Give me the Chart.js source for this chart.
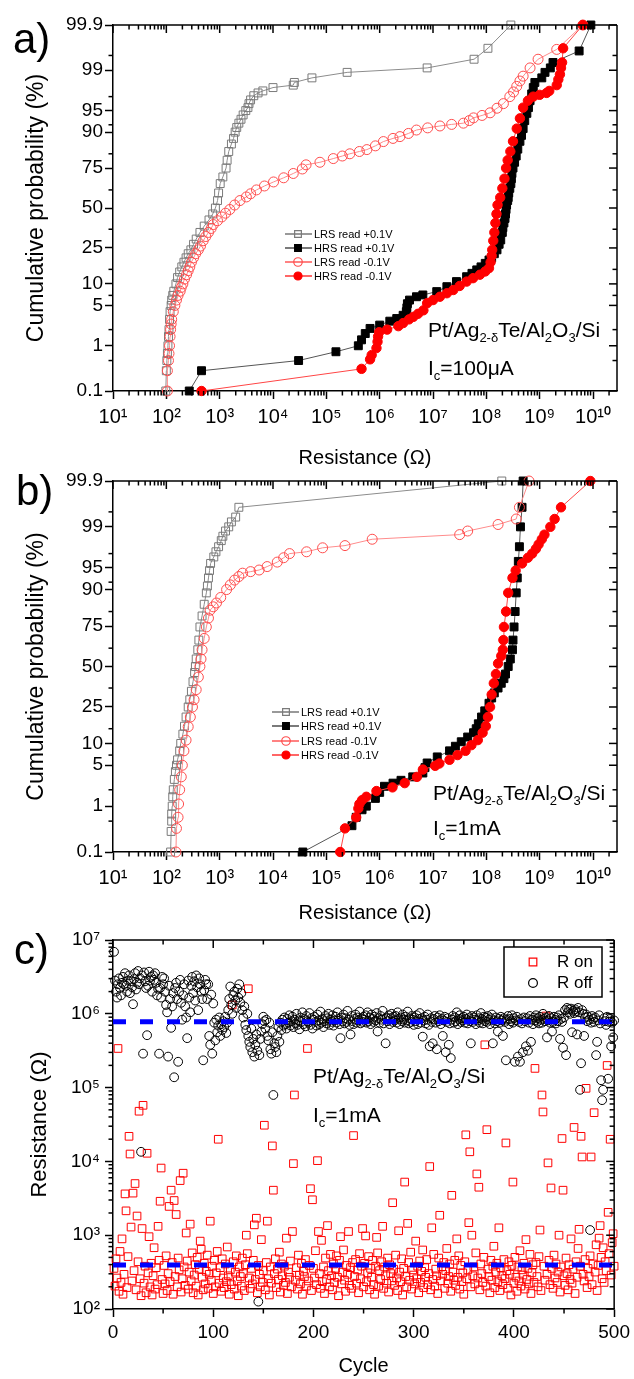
<!DOCTYPE html>
<html><head><meta charset="utf-8">
<script src="https://cdn.jsdelivr.net/npm/chart.js@4.4.1/dist/chart.umd.min.js"></script>
<style>
html,body{margin:0;padding:0;background:#fff;}
#wrap{position:relative;width:634px;height:1379px;overflow:hidden;font-family:"Liberation Sans",Arial,sans-serif;color:#000;}
canvas{position:absolute;left:0;}
.lbl{position:absolute;font-size:42px;line-height:42px;white-space:nowrap;}
.ann{position:absolute;font-size:21px;line-height:21px;white-space:nowrap;}
.ann sub{font-size:13px;vertical-align:-5px;line-height:0;}
</style></head><body>
<div id="wrap">
<canvas id="ca" width="634" height="470" style="top:0px"></canvas>
<canvas id="cb" width="634" height="470" style="top:460px"></canvas>
<canvas id="cc" width="634" height="459" style="top:920px"></canvas>
<div class="lbl" style="left:13px;top:18px">a)</div>
<div class="lbl" style="left:16px;top:470px">b)</div>
<div class="lbl" style="left:14px;top:929px">c)</div>
<div class="ann" style="left:428px;top:319px">Pt/Ag<sub>2-δ</sub>Te/Al<sub>2</sub>O<sub>3</sub>/Si</div>
<div class="ann" style="left:428px;top:357px">I<sub>c</sub>=100μA</div>
<div class="ann" style="left:433px;top:782px">Pt/Ag<sub>2-δ</sub>Te/Al<sub>2</sub>O<sub>3</sub>/Si</div>
<div class="ann" style="left:433px;top:817px">I<sub>c</sub>=1mA</div>
<div class="ann" style="left:313px;top:1065px">Pt/Ag<sub>2-δ</sub>Te/Al<sub>2</sub>O<sub>3</sub>/Si</div>
<div class="ann" style="left:313px;top:1104px">I<sub>c</sub>=1mA</div>
</div>
<script>
// ---------------- DATA ----------------
// cumulative-probability panels: [cumulative %, log10(R / Ohm)]
const seriesLabels = ['LRS read +0.1V', 'HRS read +0.1V', 'LRS read -0.1V', 'HRS read -0.1V'];
const probTicks = [0.1, 1, 5, 10, 25, 50, 75, 90, 95, 99, 99.9];
const probTickLabels = ['0.1', '1', '5', '10', '25', '50', '75', '90', '95', '99', '99.9'];
const probMinorTicks = [0.5, 2, 7, 15, 36, 62, 82, 92, 97, 99.5];
const resistanceDecades = [1e1, 1e2, 1e3, 1e4, 1e5, 1e6, 1e7, 1e8, 1e9, 1e10];

const aLrsPos = [[0.1,1.99],[0.3,2.00],[0.5,2.01],[0.7,2.02],[1,2.03],[1.5,2.04],[2,2.05],[3,2.06],[4,2.07],[5,2.09],[6,2.10],[7,2.12],[8,2.14],[10,2.18],[12,2.21],[14,2.25],[16,2.29],[18,2.33],[20,2.37],[22,2.41],[24,2.46],[27,2.51],[30,2.56],[34,2.63],[38,2.71],[42,2.80],[46,2.87],[50,2.92],[55,2.96],[60,2.98],[66,3.01],[70,3.06],[75,3.12],[79,3.14],[83,3.17],[86,3.22],[88,3.26],[90,3.29],[91.3,3.32],[92.4,3.36],[93.3,3.40],[94.2,3.44],[95,3.49],[95.5,3.53],[96.1,3.55],[96.6,3.58],[97.1,3.64],[97.4,3.72],[97.6,3.81],[97.9,4.00],[98.1,4.38],[98.3,4.40],[98.6,4.73],[98.9,5.39],[99.1,6.89],[99.4,7.77],[99.65,8.03],[99.9,8.46]];
const aHrsPos = [[0.1,2.43],[0.3,2.66],[0.5,4.48],[0.76,5.18],[1.0,5.60],[1.3,5.66],[1.7,5.73],[2.1,5.82],[2.4,6.00],[2.8,6.19],[3.1,6.32],[3.5,6.44],[4.0,6.50],[4.6,6.51],[5.3,6.52],[6.0,6.56],[6.7,6.69],[7.1,6.81],[7.9,7.07],[9.2,7.26],[10.7,7.44],[12.3,7.63],[13.5,7.73],[14.8,7.82],[16,7.90],[17.5,7.98],[19,8.05],[20,8.10],[22,8.15],[24,8.20],[27,8.24],[29.5,8.27],[34,8.30],[37,8.31],[40,8.33],[43,8.35],[46,8.36],[49,8.37],[52,8.38],[55,8.40],[57,8.41],[60,8.42],[63,8.44],[66,8.46],[69,8.47],[72,8.48],[75,8.50],[78,8.53],[81,8.56],[84,8.59],[87,8.63],[89,8.66],[91,8.69],[93,8.72],[94.5,8.76],[95.5,8.79],[96.5,8.82],[97.3,8.85],[97.9,8.88],[98.3,8.91],[98.6,9.04],[98.9,9.10],[99.1,9.20],[99.3,9.25],[99.6,9.74],[99.9,9.96]];
const aLrsNeg = [[0.1,2.02],[0.3,2.02],[0.5,2.04],[0.7,2.05],[1,2.06],[1.5,2.07],[2,2.08],[2.5,2.09],[3,2.10],[4,2.13],[5,2.16],[6,2.19],[7,2.22],[8,2.26],[9,2.28],[10,2.31],[11.5,2.34],[13,2.38],[14.5,2.41],[16,2.44],[18,2.47],[20,2.51],[22,2.55],[24,2.60],[26,2.64],[29,2.69],[31.5,2.74],[34,2.79],[36.5,2.84],[39,2.88],[41.5,2.96],[44,3.04],[46.5,3.11],[49,3.19],[52,3.28],[55,3.38],[57.4,3.50],[59.5,3.58],[62,3.69],[64.5,3.84],[67,4.01],[69.5,4.20],[72,4.38],[74.5,4.55],[76.7,4.62],[78,4.88],[79.8,5.13],[81,5.30],[82,5.44],[83,5.62],[83.8,5.76],[85.3,5.92],[86.9,6.07],[88,6.25],[88.6,6.38],[89.6,6.54],[90.6,6.69],[91.2,6.90],[91.7,7.13],[92.1,7.35],[92.4,7.57],[93,7.68],[93.6,7.76],[94.1,7.92],[94.6,8.07],[95.4,8.20],[96.1,8.32],[97,8.44],[97.5,8.51],[98,8.57],[98.4,8.63],[98.7,8.69],[99.1,8.82],[99.4,8.97],[99.63,9.32],[99.9,9.81]];
const aHrsNeg = [[0.1,2.66],[0.33,5.66],[0.53,5.82],[0.65,5.85],[0.9,5.94],[1.2,5.96],[1.5,5.97],[1.8,5.99],[2.0,6.14],[2.3,6.35],[2.6,6.44],[3.0,6.55],[3.3,6.63],[3.7,6.72],[4.2,6.82],[5.4,6.89],[6.0,7.00],[6.7,7.13],[7.5,7.26],[8.3,7.38],[9.4,7.50],[10.7,7.63],[11.8,7.75],[13,7.88],[14.2,7.98],[15.5,8.05],[18,8.08],[21,8.10],[24,8.11],[29,8.13],[34,8.15],[40,8.17],[46,8.19],[52,8.21],[57,8.26],[63,8.30],[69,8.34],[75,8.37],[79,8.40],[83,8.45],[87,8.50],[91,8.57],[93.5,8.63],[95.5,8.69],[96.5,8.78],[97,8.88],[97.2,9.00],[97.4,9.13],[97.6,9.18],[98.1,9.32],[98.5,9.35],[98.8,9.38],[99.1,9.40],[99.3,9.42],[99.65,9.44],[99.9,9.81]];

const bLrsPos = [[0.1,2.08],[0.3,2.09],[0.5,2.10],[0.7,2.10],[1,2.11],[1.5,2.12],[2,2.13],[3,2.15],[4,2.17],[5,2.19],[6,2.21],[8,2.25],[10,2.27],[13,2.31],[16,2.34],[20,2.37],[25,2.41],[29,2.44],[34,2.47],[40,2.50],[46,2.53],[50,2.545],[55,2.56],[61,2.59],[67,2.61],[74.5,2.63],[80,2.67],[85,2.71],[89,2.75],[91,2.77],[93,2.79],[94.5,2.81],[95.7,2.83],[96.6,2.89],[97.2,2.93],[97.7,2.98],[98.2,3.03],[98.5,3.06],[98.8,3.11],[99.0,3.17],[99.2,3.22],[99.36,3.30],[99.6,3.36],[99.9,8.29]];
const bHrsPos = [[0.1,4.56],[0.4,5.48],[0.6,5.56],[0.85,5.67],[1.0,5.75],[1.4,5.92],[1.8,6.00],[2.3,6.09],[2.6,6.25],[2.9,6.40],[3.3,6.62],[3.8,6.81],[4.6,6.85],[5.4,6.89],[6.6,7.08],[8,7.31],[9.2,7.42],[10.5,7.53],[12,7.65],[13.5,7.76],[15,7.81],[17,7.85],[20,7.91],[23,7.97],[27,8.05],[30,8.10],[33,8.15],[36,8.22],[39,8.28],[42,8.33],[45,8.36],[50,8.41],[55,8.45],[61,8.49],[67,8.50],[74.5,8.52],[82,8.54],[89,8.56],[93,8.58],[96,8.60],[97.7,8.62],[99,8.64],[99.6,8.67],[99.9,8.69]];
const bLrsNeg = [[0.1,2.18],[0.35,2.19],[0.6,2.22],[1.1,2.23],[2,2.25],[3.3,2.28],[5,2.30],[8,2.33],[11,2.37],[15.8,2.41],[20,2.45],[25,2.49],[29,2.52],[35,2.56],[43,2.60],[50,2.63],[55,2.65],[61,2.67],[68,2.71],[74.5,2.75],[79,2.79],[82.6,2.82],[84,2.88],[85.5,2.94],[87.5,3.02],[90,3.13],[91.3,3.20],[92.5,3.28],[93.3,3.36],[94,3.43],[94.3,3.58],[94.6,3.74],[95.2,3.89],[95.9,4.08],[96.5,4.20],[97,4.31],[97.2,4.63],[97.6,4.93],[97.8,5.35],[98.3,5.86],[98.6,7.50],[98.8,7.65],[99.1,8.22],[99.3,8.56],[99.6,8.62],[99.9,8.80]];
const bHrsNeg = [[0.1,5.26],[0.35,5.35],[0.6,5.56],[0.9,5.60],[1.1,5.62],[1.3,5.67],[1.5,5.75],[1.9,5.94],[2.2,6.24],[2.6,6.47],[3.3,6.70],[4.3,6.81],[4.9,7.04],[5.3,7.12],[6,7.31],[7,7.46],[8,7.61],[9.5,7.72],[11,7.84],[13.5,7.93],[16,7.99],[20,8.03],[25,8.07],[32,8.10],[39,8.14],[45,8.18],[52,8.22],[57,8.28],[61,8.31],[67,8.32],[74.5,8.33],[82,8.37],[89,8.41],[93,8.49],[94.5,8.55],[95.7,8.67],[96.5,8.78],[97,8.86],[97.5,8.93],[97.9,8.98],[98.3,9.04],[98.6,9.09],[99,9.20],[99.3,9.28],[99.6,9.40],[99.9,9.95]];

// panel c: log10(R / Ohm) for cycles 1..500
const cycleTicks = [0, 100, 200, 300, 400, 500];
const cycleMinorTicks = [50, 150, 250, 350, 450];
const cResDecades = [1e2, 1e3, 1e4, 1e5, 1e6, 1e7];
const rOnMean = 395;
const rOffMean = 7.8e5;
const rOnLog = [
2.55,2.31,2.68,2.42,5.53,2.24,2.78,2.36,2.95,2.20,
2.47,3.56,3.33,2.29,2.71,4.34,4.10,3.11,2.38,3.57,
2.52,3.70,2.26,3.26,2.64,4.68,2.41,2.18,3.09,4.76,
2.35,2.58,2.22,4.11,2.49,2.98,2.30,2.62,2.19,2.45,
2.83,2.27,2.56,2.33,3.12,2.66,3.46,3.91,2.40,2.21,
2.59,2.34,2.72,2.25,2.48,3.39,2.37,3.61,2.63,2.20,
3.47,2.44,3.28,2.30,2.69,2.53,3.74,2.23,2.41,3.84,
2.57,2.32,3.03,2.65,2.27,2.50,3.15,2.38,2.76,2.22,
2.46,2.60,2.31,2.70,2.19,2.54,2.92,2.81,2.43,2.26,
2.62,2.34,2.51,2.73,2.28,2.47,3.19,2.39,2.58,2.21,
2.66,2.30,2.49,2.78,4.30,2.35,2.56,2.24,2.68,2.42,
2.29,2.61,2.37,2.84,2.45,2.20,2.53,2.33,6.12,2.64,
2.27,2.50,2.72,2.38,2.18,2.57,2.44,2.31,2.69,2.48,
2.25,2.60,3.00,2.75,6.34,2.42,2.28,2.55,2.34,2.66,
3.14,2.40,3.23,2.22,2.59,2.47,2.30,2.94,2.36,2.52,
4.49,2.26,2.63,3.19,2.41,2.19,2.57,2.35,4.21,3.61,
2.48,2.68,2.29,2.54,2.40,2.77,2.23,2.61,2.45,2.32,
2.58,2.36,2.96,2.21,2.50,2.43,2.65,2.30,3.05,3.97,
4.90,2.39,2.56,2.27,2.73,2.46,2.34,2.62,2.20,2.51,
2.44,2.67,2.31,5.53,2.38,2.59,3.63,2.25,3.48,2.55,
2.42,2.79,2.33,4.01,3.05,2.48,2.28,2.93,2.37,2.57,
2.21,2.69,2.40,3.13,2.52,2.30,2.74,2.45,2.26,2.61,
2.36,2.55,2.72,2.43,2.18,2.66,2.98,2.34,2.50,2.80,
2.39,2.24,2.59,2.47,3.05,2.32,2.56,2.28,2.63,4.35,
2.44,2.67,2.35,2.53,2.22,2.75,2.41,2.58,3.09,2.30,
2.62,2.99,2.37,2.49,2.71,2.26,2.55,2.43,2.66,2.33,
2.20,2.58,2.97,2.76,2.31,2.52,2.40,2.64,3.12,2.28,
2.57,2.45,2.35,2.69,2.23,2.60,2.48,2.38,3.44,2.54,
2.32,2.73,2.42,2.25,3.06,2.50,2.37,2.68,2.19,2.55,
3.72,2.44,2.30,3.16,2.63,2.39,2.77,2.27,2.53,2.46,
2.34,2.92,2.41,2.58,2.22,2.65,2.36,2.51,2.80,2.29,
2.56,2.43,2.67,2.33,2.48,3.93,2.26,3.10,2.40,2.74,
2.31,2.54,2.45,2.21,2.69,3.27,2.38,2.57,2.47,2.63,
2.28,2.52,2.82,2.35,2.44,2.61,2.24,3.54,2.50,2.39,
2.66,2.32,2.95,2.43,2.72,2.27,2.59,2.37,2.49,2.20,
2.64,4.36,2.41,2.53,3.17,4.13,2.30,3.00,2.45,2.57,
2.34,2.76,3.83,2.42,3.65,2.26,2.61,2.48,2.36,2.70,
5.58,2.31,4.43,2.54,2.44,2.22,2.66,2.39,2.58,2.85,
2.29,2.50,2.62,2.37,3.10,2.25,2.56,2.45,2.33,2.67,
2.41,4.25,2.52,2.28,2.64,2.47,2.19,2.59,3.72,2.35,
2.70,2.43,2.24,2.57,2.38,2.79,2.31,2.53,2.46,2.62,
2.27,2.94,2.40,2.55,2.34,2.74,2.21,2.49,2.60,2.36,
5.26,2.63,2.44,2.30,2.71,3.07,2.25,4.90,4.67,2.58,
2.39,5.97,2.47,3.98,2.66,2.33,3.64,2.55,2.28,2.73,
2.42,2.61,2.36,2.50,3.00,2.23,2.57,4.31,3.61,2.45,
2.32,2.69,2.48,2.26,2.60,2.40,2.95,2.35,2.54,4.46,
2.21,2.64,2.43,2.82,3.08,2.58,4.34,4.06,2.47,2.38,
2.67,4.99,2.29,2.55,2.44,2.72,4.06,2.33,2.61,4.66,
2.50,2.87,2.25,2.59,2.96,3.13,2.70,2.41,2.83,2.36,
2.64,2.52,5.30,3.31,2.75,4.30,2.46,2.90,3.02,2.58];
const rOffLog = [
6.84,6.45,6.30,6.22,6.40,6.48,6.35,6.25,6.42,6.50,
6.40,6.55,6.38,6.30,6.45,6.52,6.28,6.44,6.36,6.13,
6.47,6.55,6.33,6.42,6.58,6.40,6.48,4.13,6.52,5.46,
6.56,6.44,6.35,5.71,6.38,6.57,6.45,6.50,6.30,6.52,
6.46,6.55,6.42,6.25,6.34,5.46,6.35,6.22,6.50,6.40,
6.48,6.30,6.12,6.02,5.42,6.38,6.20,5.81,6.10,6.28,
5.14,6.35,6.42,6.20,5.35,6.30,6.46,6.15,5.92,6.25,
6.40,6.10,5.95,5.67,6.45,6.22,6.02,6.38,6.50,6.28,
6.44,6.18,6.52,6.36,6.05,6.48,6.40,6.30,6.20,5.37,
6.32,6.46,6.40,6.20,6.40,5.70,5.58,6.26,5.46,6.14,
5.88,5.64,5.92,5.75,5.84,5.95,5.70,5.86,5.78,5.90,
5.82,5.96,5.74,5.88,6.05,6.20,6.37,6.12,6.00,6.25,
6.30,6.18,6.08,6.34,6.22,6.40,6.15,6.28,6.05,5.95,
6.10,5.85,5.78,6.00,5.70,5.62,5.55,5.80,5.48,5.66,
5.42,5.58,5.72,5.50,2.10,5.44,5.66,5.76,5.86,5.96,
5.90,5.80,5.92,5.70,5.64,5.88,5.52,5.46,5.75,4.90,
5.60,5.55,5.48,5.70,5.82,5.62,5.88,5.78,5.92,5.84,
5.95,5.86,5.80,5.93,5.88,5.98,5.84,5.90,5.96,5.82,
5.92,5.87,6.00,5.85,5.91,5.79,5.95,5.89,6.02,5.86,
5.93,5.83,5.97,5.90,5.88,6.01,5.85,5.94,5.80,5.92,
5.96,5.89,5.84,5.99,5.91,5.86,6.03,5.88,5.93,5.82,
5.90,5.97,5.87,5.94,6.00,5.85,5.92,5.89,5.98,5.84,
5.91,5.96,5.88,6.02,5.93,5.86,5.67,5.95,5.90,5.99,
5.87,5.94,5.89,6.04,5.92,5.85,5.72,5.97,5.90,5.86,
5.93,5.99,5.88,5.95,5.91,6.03,5.87,5.94,5.89,5.96,
5.92,5.98,5.88,6.02,5.90,5.95,5.86,5.99,5.93,5.89,
5.96,5.91,6.01,5.76,5.94,5.88,5.97,5.92,6.04,5.87,
5.93,5.60,5.95,5.90,5.98,5.86,5.94,6.00,5.89,5.96,
5.91,5.97,5.88,6.02,5.93,5.86,5.95,5.90,5.99,5.92,
5.88,5.96,5.91,6.03,5.87,5.94,5.89,5.97,5.92,5.85,
5.95,5.90,5.98,5.86,5.93,6.01,5.88,5.94,5.69,5.91,
5.96,5.87,5.92,5.99,5.85,5.56,5.94,5.89,5.60,5.93,
5.97,5.88,5.52,5.95,5.90,5.98,5.86,5.93,5.70,5.91,
5.96,5.48,5.89,5.94,5.58,5.87,5.40,5.92,5.97,5.88,
5.95,5.90,6.02,5.86,5.93,5.98,5.89,5.94,5.91,5.96,
5.88,5.93,5.99,5.87,5.94,5.90,5.60,5.97,5.89,5.95,
5.92,5.86,5.98,5.91,5.94,5.88,6.01,5.93,5.87,5.96,
5.90,5.95,5.89,5.97,5.92,5.86,5.94,5.99,5.60,5.91,
5.87,5.95,5.90,5.76,5.93,5.88,5.96,5.91,5.70,5.94,
5.89,5.37,5.92,5.97,5.86,5.93,5.90,5.98,5.88,5.94,
5.35,5.91,5.96,5.42,5.89,5.35,5.93,5.87,5.48,5.95,
5.90,5.56,5.94,5.50,5.88,5.97,5.62,5.92,5.86,5.95,
5.91,5.98,5.89,5.94,5.87,5.96,5.92,5.88,6.00,5.93,
5.90,5.95,5.68,5.91,5.97,5.88,5.94,5.76,5.89,5.96,
5.92,5.87,5.95,5.90,5.98,5.66,5.93,5.89,5.54,5.95,
6.05,5.44,6.08,6.02,6.06,6.00,6.07,5.75,6.04,6.01,
6.06,6.03,5.72,6.08,6.02,4.97,5.33,6.05,6.00,5.70,
5.95,5.99,5.90,5.96,5.92,3.07,5.88,5.97,5.93,5.89,
5.95,5.44,5.62,5.91,5.98,5.87,5.10,4.83,4.97,5.94,
5.90,5.85,5.96,5.12,5.89,5.93,5.56,5.88,5.68,5.91];

// ---------------- HELPERS ----------------
Chart.defaults.font.family = '"Liberation Sans", Arial, sans-serif';
Chart.defaults.color = '#000';

function probit(pct) { // inverse normal CDF (probability-scale transform)
  const p = pct / 100;
  const a = [-3.969683028665376e+01, 2.209460984245205e+02, -2.759285104469687e+02, 1.383577518672690e+02, -3.066479806614716e+01, 2.506628277459239e+00];
  const b = [-5.447609879822406e+01, 1.615858368580409e+02, -1.556989798598866e+02, 6.680131188771972e+01, -1.328068155288572e+01];
  const c = [-7.784894002430293e-03, -3.223964580411365e-01, -2.400758277161838e+00, -2.549732539343734e+00, 4.374664141464968e+00, 2.938163982698783e+00];
  const d = [7.784695709041462e-03, 3.224671290700398e-01, 2.445134137142996e+00, 3.754408661907416e+00];
  const pl = 0.02425, ph = 1 - pl;
  let q, r;
  if (p < pl) { q = Math.sqrt(-2 * Math.log(p)); return (((((c[0]*q+c[1])*q+c[2])*q+c[3])*q+c[4])*q+c[5]) / ((((d[0]*q+d[1])*q+d[2])*q+d[3])*q+1); }
  if (p <= ph) { q = p - 0.5; r = q * q; return (((((a[0]*r+a[1])*r+a[2])*r+a[3])*r+a[4])*r+a[5])*q / (((((b[0]*r+b[1])*r+b[2])*r+b[3])*r+b[4])*r+1); }
  q = Math.sqrt(-2 * Math.log(1 - p));
  return -(((((c[0]*q+c[1])*q+c[2])*q+c[3])*q+c[4])*q+c[5]) / ((((d[0]*q+d[1])*q+d[2])*q+d[3])*q+1);
}
const SUP = {'0':'⁰','1':'¹','2':'²','3':'³','4':'⁴','5':'⁵','6':'⁶','7':'⁷','8':'⁸','9':'⁹'};
const pow10Label = v => '10' + String(Math.round(Math.log10(v))).split('').map(ch => SUP[ch]).join('');
function logMinors(e0, e1) { const out = []; for (let e = e0; e <= e1; e++) for (let m = 2; m <= 9; m++) out.push(m * Math.pow(10, e)); return out; }

function drawMarker(ctx, style, x, y, r, stroke, fill, lw) {
  ctx.beginPath();
  if (style === 'rect') { const s = r * Math.SQRT1_2; ctx.rect(x - s, y - s, 2 * s, 2 * s); }
  else ctx.arc(x, y, r, 0, Math.PI * 2);
  if (fill && fill !== 'rgba(0,0,0,0)') { ctx.fillStyle = fill; ctx.fill(); }
  ctx.lineWidth = lw; ctx.strokeStyle = stroke; ctx.stroke();
}

const framePlugin = {
  id: 'frameTicks',
  afterDraw(chart, args, o) {
    const {ctx, chartArea: ca, scales} = chart;
    const xs = scales.x, ys = scales.y;
    const line = (x1, y1, x2, y2) => { ctx.beginPath(); ctx.moveTo(x1, y1); ctx.lineTo(x2, y2); ctx.stroke(); };
    ctx.save();
    ctx.strokeStyle = '#000'; ctx.lineWidth = 1.5;
    line(ca.left, ca.top, ca.right, ca.top);
    line(ca.right, ca.top, ca.right, ca.bottom);
    const xMaj = xs.ticks.map(t => t.value), yMaj = ys.ticks.map(t => t.value);
    const inX = px => px >= ca.left - 0.5 && px <= ca.right + 0.5;
    const inY = py => py >= ca.top - 0.5 && py <= ca.bottom + 0.5;
    for (const v of xMaj) { const px = xs.getPixelForValue(v); if (inX(px)) line(px, ca.top, px, ca.top + 8); }
    for (const v of o.xMinor) { const px = xs.getPixelForValue(v); if (inX(px)) { line(px, ca.bottom, px, ca.bottom + 4.5); line(px, ca.top, px, ca.top + 4.5); } }
    for (const v of yMaj) { const py = ys.getPixelForValue(v); if (inY(py)) line(ca.right - 8, py, ca.right, py); }
    for (const v of o.yMinor) { const py = ys.getPixelForValue(v); if (inY(py)) { line(ca.left - 4.5, py, ca.left, py); line(ca.right - 4.5, py, ca.right, py); } }
    ctx.restore();
  }
};

const legendPlugin = {
  id: 'innerLegend',
  afterDraw(chart, args, o) {
    const ctx = chart.ctx;
    ctx.save();
    if (o.box) {
      ctx.fillStyle = '#fff'; ctx.fillRect(o.box[0], o.box[1], o.box[2], o.box[3]);
      ctx.strokeStyle = '#000'; ctx.lineWidth = 1.5; ctx.strokeRect(o.box[0], o.box[1], o.box[2], o.box[3]);
    }
    ctx.font = o.font; ctx.textBaseline = 'middle'; ctx.textAlign = 'left';
    o.items.forEach((dsIndex, k) => {
      const ds = chart.data.datasets[dsIndex];
      const y = o.ys[k];
      if (o.lineFrom != null) {
        ctx.strokeStyle = ds.legendLine || ds.borderColor; ctx.lineWidth = 1.2;
        ctx.beginPath(); ctx.moveTo(o.lineFrom, y); ctx.lineTo(o.lineTo, y); ctx.stroke();
      }
      drawMarker(ctx, ds.pointStyle, o.mx, y, ds.pointRadius * o.scale, ds.pointBorderColor, ds.pointBackgroundColor, 1.2);
      ctx.fillStyle = '#000';
      ctx.fillText(ds.label, o.tx, y + 0.5);
    });
    ctx.restore();
  }
};

const seriesStyles = [
  {style: 'rect', r: 5.6, line: '#8c8c8c', edge: '#7a7a7a', fill: 'rgba(0,0,0,0)', legendLine: '#555'},
  {style: 'rect', r: 5.6, line: '#555555', edge: '#000000', fill: '#000000', legendLine: '#222'},
  {style: 'circle', r: 5.0, line: '#ff8c8c', edge: '#ff4d4d', fill: 'rgba(0,0,0,0)', legendLine: '#ff3030'},
  {style: 'circle', r: 4.7, line: '#ff4545', edge: '#ff0000', fill: '#ff0000', legendLine: '#ff0000'}
];

function cdfChart(id, seriesData, o) {
  const datasets = seriesData.map((arr, i) => {
    const st = seriesStyles[i];
    return {
      label: seriesLabels[i],
      data: arr.map(([p, lg]) => ({x: Math.pow(10, lg), y: probit(p)})),
      showLine: true, borderColor: st.line, borderWidth: 1, legendLine: st.legendLine,
      pointStyle: st.style, pointRadius: st.r, pointHoverRadius: st.r,
      pointBorderColor: st.edge, pointBackgroundColor: st.fill, pointBorderWidth: 1,
      order: 4 - i, clip: false
    };
  });
  return new Chart(document.getElementById(id), {
    type: 'scatter',
    data: {datasets},
    options: {
      responsive: false, animation: false, events: [],
      layout: {padding: {top: o.padTop, right: 17, left: 0, bottom: 0}},
      plugins: {
        legend: {display: false}, tooltip: {enabled: false},
        frameTicks: {xMinor: logMinors(1, 10), yMinor: probMinorTicks.map(probit)},
        innerLegend: {items: [0, 1, 2, 3], ys: o.legendYs, lineFrom: o.legendX0, lineTo: o.legendX1, mx: o.legendMx, tx: o.legendTx, scale: 0.85, font: '11px "Liberation Sans", Arial, sans-serif'}
      },
      scales: {
        x: {
          type: 'logarithmic', position: 'bottom', min: 10, max: Math.pow(10, 10.45),
          afterBuildTicks: s => { s.ticks = resistanceDecades.map(v => ({value: v})); },
          afterFit: s => { s.height = o.xH; },
          ticks: {callback: v => pow10Label(v), autoSkip: false, maxRotation: 0, minRotation: 0, padding: 6, font: {size: 20}},
          grid: {display: true, drawOnChartArea: false, drawTicks: true, tickLength: 8, tickWidth: 1.5, tickColor: '#000'},
          border: {display: true, color: '#000', width: 1.5},
          title: {display: true, text: 'Resistance (Ω)', font: {size: 20}, padding: {top: 0, bottom: o.xTitlePad}}
        },
        y: {
          type: 'linear', position: 'left', min: probit(0.1), max: probit(99.9),
          afterBuildTicks: s => { s.ticks = probTicks.map(p => ({value: probit(p)})); },
          afterFit: s => { s.width = 113; },
          ticks: {callback: (v, i) => probTickLabels[i], autoSkip: false, padding: 2, font: {size: 19}},
          grid: {display: true, drawOnChartArea: false, drawTicks: true, tickLength: 8, tickWidth: 1.5, tickColor: '#000'},
          border: {display: true, color: '#000', width: 1.5},
          title: {display: true, text: 'Cumulative probability (%)', font: {size: 23}, padding: {top: 23, bottom: 0}}
        }
      }
    },
    plugins: [framePlugin, legendPlugin]
  });
}

cdfChart('ca', [aLrsPos, aHrsPos, aLrsNeg, aHrsNeg], {padTop: 25, xH: 79, xTitlePad: 0, legendYs: [234, 248, 262, 276], legendX0: 285, legendX1: 312, legendMx: 298, legendTx: 314});
cdfChart('cb', [bLrsPos, bHrsPos, bLrsNeg, bHrsNeg], {padTop: 21, xH: 78, xTitlePad: 5, legendYs: [252, 266, 281, 295], legendX0: 272, legendX1: 299, legendMx: 286, legendTx: 301});

// ---------------- PANEL C ----------------
new Chart(document.getElementById('cc'), {
  type: 'scatter',
  data: {
    datasets: [
      {label: 'mean R on', type: 'line', data: [{x: 0, y: rOnMean}, {x: 500, y: rOnMean}], borderColor: '#0000ff', borderWidth: 5, borderDash: [13, 14], pointRadius: 0, order: 0, clip: false},
      {label: 'mean R off', type: 'line', data: [{x: 0, y: rOffMean}, {x: 500, y: rOffMean}], borderColor: '#0000ff', borderWidth: 5, borderDash: [13, 14], pointRadius: 0, order: 0, clip: false},
      {label: 'R on', data: rOnLog.map((lg, i) => ({x: i + 1, y: Math.pow(10, lg)})), pointStyle: 'rect', pointRadius: 5.4, pointHoverRadius: 5.4, pointBorderColor: '#ff0000', pointBackgroundColor: 'rgba(0,0,0,0)', pointBorderWidth: 1, showLine: false, order: 2, clip: false},
      {label: 'R off', data: rOffLog.map((lg, i) => ({x: i + 1, y: Math.pow(10, lg)})), pointStyle: 'circle', pointRadius: 4.4, pointHoverRadius: 4.4, pointBorderColor: '#000000', pointBackgroundColor: 'rgba(0,0,0,0)', pointBorderWidth: 1, showLine: false, order: 1, clip: false}
    ]
  },
  options: {
    responsive: false, animation: false, events: [],
    layout: {padding: {top: 20, right: 19, left: 0, bottom: 0}},
    plugins: {
      legend: {display: false}, tooltip: {enabled: false},
      frameTicks: {xMinor: cycleMinorTicks, yMinor: logMinors(2, 6)},
      innerLegend: {box: [504, 27, 98, 50], items: [2, 3], ys: [42, 63], lineFrom: null, mx: 533, tx: 557, scale: 1.0, font: '17px "Liberation Sans", Arial, sans-serif'}
    },
    scales: {
      x: {
        type: 'linear', position: 'bottom', min: 0, max: 500,
        afterBuildTicks: s => { s.ticks = cycleTicks.map(v => ({value: v})); },
        afterFit: s => { s.height = 70; },
        ticks: {autoSkip: false, maxRotation: 0, padding: 4, font: {size: 19}},
        grid: {display: true, drawOnChartArea: false, drawTicks: true, tickLength: 8, tickWidth: 1.5, tickColor: '#000'},
        border: {display: true, color: '#000', width: 1.5},
        title: {display: true, text: 'Cycle', font: {size: 20}, padding: {top: 0, bottom: 1}}
      },
      y: {
        type: 'logarithmic', position: 'left', min: 1e2, max: 1e7,
        afterBuildTicks: s => { s.ticks = cResDecades.map(v => ({value: v})); },
        afterFit: s => { s.width = 113; },
        ticks: {callback: v => pow10Label(v), autoSkip: false, padding: 5, font: {size: 19}},
        grid: {display: true, drawOnChartArea: false, drawTicks: true, tickLength: 8, tickWidth: 1.5, tickColor: '#000'},
        border: {display: true, color: '#000', width: 1.5},
        title: {display: true, text: 'Resistance (Ω)', font: {size: 22}, padding: {top: 27, bottom: 0}}
      }
    }
  },
  plugins: [framePlugin, legendPlugin]
});
</script>
</body></html>
